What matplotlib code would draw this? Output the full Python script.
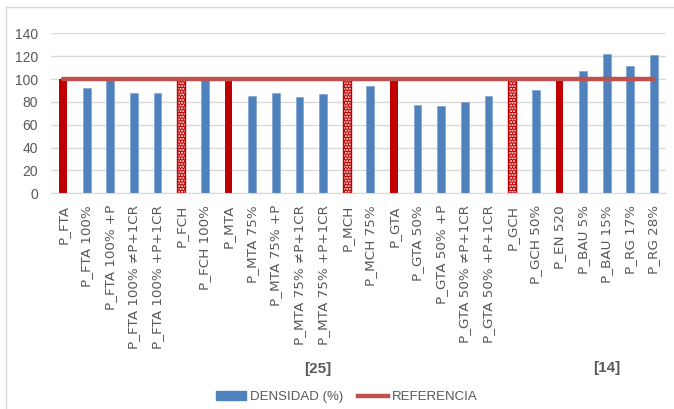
import matplotlib.pyplot as plt
from matplotlib.lines import Line2D
from matplotlib.patches import Patch

plt.rcParams['font.family'] = ['Liberation Sans', 'DejaVu Sans']

labels = ["P_FTA", "P_FTA 100%", "P_FTA 100% +P", "P_FTA 100% \u2260P+1CR", "P_FTA 100% +P+1CR",
          "P_FCH", "P_FCH 100%", "P_MTA", "P_MTA 75%", "P_MTA 75% +P",
          "P_MTA 75% \u2260P+1CR", "P_MTA 75% +P+1CR", "P_MCH", "P_MCH 75%", "P_GTA",
          "P_GTA 50%", "P_GTA 50% +P", "P_GTA 50% \u2260P+1CR", "P_GTA 50% +P+1CR", "P_GCH",
          "P_GCH 50%", "P_EN 520", "P_BAU 5%", "P_BAU 15%", "P_RG 17%", "P_RG 28%"]
densidad = [100, 92, 99, 88, 88, 100, 99, 100, 85, 88, 84, 87, 100, 94, 100,
            77, 76, 80, 85, 100, 90, 100, 107, 122, 111, 121]
# kind: 0 = normal (blue), 1 = solid reference (red), 2 = hatched reference
kind = [1, 0, 0, 0, 0, 2, 0, 1, 0, 0, 0, 0, 2, 0, 1, 0, 0, 0, 0, 2, 0, 1, 0, 0, 0, 0]
referencia = [100] * len(labels)
groups = ["[25]", "[14]"]

BLUE = "#4F81BD"
RED = "#C00000"
LINE = "#C0504D"
GRAY = "#595959"

fig = plt.figure(figsize=(6.74, 4.09), dpi=100)
ax = fig.add_axes([51.2 / 674, 1 - 193.3 / 409, (665.8 - 51.2) / 674, 160 / 409])

x = list(range(len(labels)))
w = 0.33
for i in x:
    if kind[i] == 0:
        ax.bar(i, densidad[i], w, color=BLUE, edgecolor="#7FA3D4", linewidth=0.5, zorder=2)
    elif kind[i] == 1:
        ax.bar(i, densidad[i], w, color=RED, linewidth=0, zorder=2)
    else:
        ax.bar(i, densidad[i], w, color=RED, edgecolor="white", hatch="......", linewidth=0, zorder=2)
        ax.bar(i, densidad[i], w, fill=False, edgecolor=RED, linewidth=1, zorder=2)

ax.plot(x, referencia, color=LINE, linewidth=3.2, solid_capstyle="round", zorder=3)

ax.set_xlim(-0.5, len(labels) - 0.5)
ax.set_ylim(0, 140)
ax.set_yticks(range(0, 141, 20))
ax.grid(axis="y", color="#D9D9D9", linewidth=1, zorder=0)
ax.set_axisbelow(True)
for s in ["top", "right", "left"]:
    ax.spines[s].set_visible(False)
ax.spines["bottom"].set_color("#D9D9D9")
ax.tick_params(axis="both", length=0, colors=GRAY, labelsize=10)
ax.tick_params(axis="y", pad=9.5)
ax.set_xticks(x)
ax.set_xticklabels(labels, rotation=90, ha="center", va="top",
                   family="DejaVu Sans", fontsize=9.7)
ax.tick_params(axis="x", pad=8.5)

fig.text(318 / 674, 1 - 369 / 409, groups[0], ha="center", va="center",
         fontsize=11, fontweight="bold", color=GRAY)
fig.text(607 / 674, 1 - 368 / 409, groups[1], ha="center", va="center",
         fontsize=11, fontweight="bold", color=GRAY)

handles = [Patch(facecolor=BLUE, edgecolor=BLUE),
           Line2D([0], [0], color=LINE, linewidth=3.2)]
fig.legend(handles, ["DENSIDAD (%)", "REFERENCIA"], loc="center",
           bbox_to_anchor=(347 / 674, 1 - 397 / 409), ncol=2, frameon=False,
           fontsize=9.5, labelcolor=GRAY, handlelength=2.3, handletextpad=0.3,
           columnspacing=1.1)

# chart area border (only top and left visible in reference)
fig.add_artist(Line2D([6 / 674, 6 / 674], [0, 1 - 7 / 409], color="#D9D9D9", linewidth=1))
fig.add_artist(Line2D([6 / 674, 1], [1 - 7 / 409, 1 - 7 / 409], color="#D9D9D9", linewidth=1))

fig.savefig("out.png", dpi=100)
